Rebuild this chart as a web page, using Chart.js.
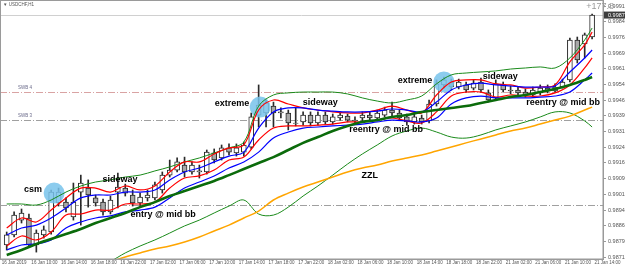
<!DOCTYPE html>
<html>
<head>
<meta charset="utf-8">
<script src="https://cdn.jsdelivr.net/npm/chart.js@4.4.1/dist/chart.umd.min.js"></script>
<style>
  html, body { margin: 0; padding: 0; background: #fff; }
  #wrap { position: relative; width: 625px; height: 268px; }
</style>
</head>
<body>
<div id="wrap"><canvas id="chart"></canvas></div>
<script>
// USDCHF H1, 16 Jan 2019 - 21 Jan 2019
const xTickLabels = ["16 Jan 2019", "16 Jan 10:00", "16 Jan 14:00", "16 Jan 18:00", "16 Jan 22:00",
  "17 Jan 02:00", "17 Jan 06:00", "17 Jan 10:00", "17 Jan 14:00", "17 Jan 18:00", "17 Jan 22:00",
  "18 Jan 02:00", "18 Jan 06:00", "18 Jan 10:00", "18 Jan 14:00", "18 Jan 18:00", "18 Jan 22:00",
  "21 Jan 02:00", "21 Jan 06:00", "21 Jan 10:00", "21 Jan 14:00"];
const yTickValues = [0.98715, 0.98790, 0.98865, 0.98940, 0.99015, 0.99090, 0.99165, 0.99240, 0.99315,
  0.99390, 0.99465, 0.99540, 0.99615, 0.99690, 0.99765, 0.99840, 0.99915];

const opens = [0.98773, 0.98821, 0.98892, 0.98902, 0.98773, 0.98821, 0.98835, 0.98974, 0.98978, 0.98907,
  0.99026, 0.99045, 0.98998, 0.98978, 0.98931, 0.99026, 0.99045, 0.99012, 0.98974, 0.98998,
  0.98998, 0.99036, 0.99107, 0.99131, 0.99155, 0.99122, 0.99127, 0.99122, 0.99213, 0.99189,
  0.99237, 0.99213, 0.99217, 0.99241, 0.99394, 0.99404, 0.99437, 0.99409, 0.99404, 0.99356,
  0.99361, 0.99394, 0.99356, 0.99394, 0.99361, 0.99380, 0.99389, 0.99370, 0.99380, 0.99394,
  0.99380, 0.99394, 0.99418, 0.99404, 0.99385, 0.99361, 0.99380, 0.99366, 0.99447, 0.99538,
  0.99552, 0.99528, 0.99538, 0.99523, 0.99552, 0.99500, 0.99476, 0.99538, 0.99514, 0.99514,
  0.99504, 0.99490, 0.99500, 0.99523, 0.99509, 0.99528, 0.99562, 0.99753, 0.99734, 0.99767];
const highs = [0.98835, 0.98931, 0.98945, 0.98921, 0.98845, 0.98864, 0.99036, 0.99045, 0.98998, 0.99069,
  0.99107, 0.99084, 0.99012, 0.98993, 0.99007, 0.99117, 0.99064, 0.99036, 0.99021, 0.99036,
  0.99074, 0.99122, 0.99179, 0.99189, 0.99193, 0.99170, 0.99155, 0.99227, 0.99232, 0.99251,
  0.99256, 0.99256, 0.99265, 0.99404, 0.99538, 0.99466, 0.99456, 0.99428, 0.99418, 0.99428,
  0.99409, 0.99409, 0.99409, 0.99409, 0.99399, 0.99409, 0.99399, 0.99385, 0.99409, 0.99409,
  0.99418, 0.99432, 0.99456, 0.99418, 0.99399, 0.99399, 0.99394, 0.99466, 0.99562, 0.99576,
  0.99566, 0.99566, 0.99552, 0.99562, 0.99571, 0.99514, 0.99562, 0.99552, 0.99533, 0.99528,
  0.99519, 0.99528, 0.99538, 0.99538, 0.99543, 0.99566, 0.99762, 0.99767, 0.99786, 0.99877];
const lows = [0.98749, 0.98811, 0.98878, 0.98763, 0.98739, 0.98806, 0.98825, 0.98959, 0.98931, 0.98892,
  0.98868, 0.98954, 0.98959, 0.98916, 0.98921, 0.98950, 0.99007, 0.98959, 0.98954, 0.98983,
  0.98988, 0.99021, 0.99098, 0.99122, 0.99098, 0.99112, 0.99093, 0.99112, 0.99165, 0.99179,
  0.99203, 0.99198, 0.99198, 0.99232, 0.99337, 0.99337, 0.99337, 0.99380, 0.99323, 0.99342,
  0.99346, 0.99342, 0.99346, 0.99351, 0.99351, 0.99370, 0.99361, 0.99356, 0.99366, 0.99370,
  0.99370, 0.99385, 0.99385, 0.99370, 0.99346, 0.99351, 0.99351, 0.99356, 0.99437, 0.99523,
  0.99514, 0.99519, 0.99504, 0.99514, 0.99504, 0.99456, 0.99466, 0.99504, 0.99495, 0.99490,
  0.99480, 0.99480, 0.99490, 0.99500, 0.99504, 0.99523, 0.99552, 0.99643, 0.99667, 0.99758];
const closes = [0.98821, 0.98916, 0.98926, 0.98773, 0.98830, 0.98845, 0.99026, 0.99026, 0.98950, 0.98978,
  0.99069, 0.99012, 0.98974, 0.98931, 0.98988, 0.99050, 0.99021, 0.98974, 0.99002, 0.99012,
  0.99060, 0.99107, 0.99131, 0.99170, 0.99122, 0.99155, 0.99122, 0.99217, 0.99179, 0.99237,
  0.99217, 0.99237, 0.99251, 0.99385, 0.99442, 0.99452, 0.99404, 0.99404, 0.99356, 0.99354,
  0.99394, 0.99356, 0.99394, 0.99361, 0.99385, 0.99394, 0.99370, 0.99366, 0.99394, 0.99380,
  0.99404, 0.99418, 0.99404, 0.99380, 0.99361, 0.99385, 0.99361, 0.99447, 0.99543, 0.99562,
  0.99528, 0.99552, 0.99514, 0.99547, 0.99514, 0.99466, 0.99543, 0.99514, 0.99509, 0.99500,
  0.99490, 0.99514, 0.99523, 0.99509, 0.99528, 0.99552, 0.99753, 0.99657, 0.99777, 0.99872];

// indicator values, read every second bar
const lineBars = [0, 2, 4, 6, 8, 10, 12, 14, 16, 18, 20, 22, 24, 26, 28, 30, 32, 34, 36, 38,
  40, 42, 44, 46, 48, 50, 52, 54, 56, 58, 60, 62, 64, 66, 68, 70, 72, 74, 76, 78, 79];
const bbUpper = [0.98969, 0.98969, 0.98964, 0.98988, 0.99026, 0.99055, 0.99074, 0.99084, 0.99098, 0.99107,
  0.99127, 0.99146, 0.99170, 0.99189, 0.99213, 0.99237, 0.99265, 0.99437, 0.99490, 0.99500,
  0.99504, 0.99504, 0.99504, 0.99495, 0.99476, 0.99461, 0.99452, 0.99466, 0.99485, 0.99543,
  0.99586, 0.99595, 0.99600, 0.99605, 0.99614, 0.99619, 0.99624, 0.99619, 0.99667, 0.99753, 0.99810];
const bbMiddle = [0.98725, 0.98749, 0.98778, 0.98802, 0.98825, 0.98849, 0.98878, 0.98902, 0.98926, 0.98954,
  0.98978, 0.99007, 0.99031, 0.99055, 0.99079, 0.99107, 0.99136, 0.99165, 0.99193, 0.99227,
  0.99261, 0.99289, 0.99318, 0.99342, 0.99361, 0.99370, 0.99385, 0.99394, 0.99409, 0.99418,
  0.99428, 0.99437, 0.99452, 0.99466, 0.99480, 0.99490, 0.99504, 0.99519, 0.99538, 0.99562, 0.99576];
const bbLower = [0.98481, 0.98534, 0.98587, 0.98610, 0.98625, 0.98644, 0.98677, 0.98696, 0.98735, 0.98768,
  0.98797, 0.98830, 0.98864, 0.98892, 0.98926, 0.98959, 0.98988, 0.98921, 0.98916, 0.98954,
  0.99007, 0.99055, 0.99107, 0.99160, 0.99208, 0.99251, 0.99294, 0.99318, 0.99332, 0.99313,
  0.99289, 0.99284, 0.99299, 0.99323, 0.99342, 0.99361, 0.99385, 0.99409, 0.99404, 0.99366, 0.99337];
const redUpper = [0.98854, 0.98902, 0.98883, 0.98940, 0.98998, 0.99045, 0.99045, 0.99026, 0.99055, 0.99036,
  0.99055, 0.99122, 0.99170, 0.99170, 0.99208, 0.99237, 0.99251, 0.99418, 0.99466, 0.99447,
  0.99428, 0.99418, 0.99409, 0.99404, 0.99404, 0.99418, 0.99437, 0.99418, 0.99404, 0.99490,
  0.99552, 0.99562, 0.99562, 0.99543, 0.99538, 0.99523, 0.99528, 0.99538, 0.99648, 0.99729, 0.99791];
const redLower = [0.98768, 0.98816, 0.98797, 0.98835, 0.98916, 0.98921, 0.98940, 0.98940, 0.98969, 0.98969,
  0.98978, 0.99045, 0.99093, 0.99103, 0.99131, 0.99179, 0.99193, 0.99275, 0.99332, 0.99342,
  0.99342, 0.99346, 0.99351, 0.99361, 0.99361, 0.99370, 0.99380, 0.99366, 0.99356, 0.99409,
  0.99485, 0.99504, 0.99504, 0.99480, 0.99490, 0.99485, 0.99485, 0.99500, 0.99538, 0.99619, 0.99667];
const blueUpper = [0.98821, 0.98854, 0.98868, 0.98902, 0.98950, 0.98998, 0.99012, 0.99012, 0.99026, 0.99026,
  0.99036, 0.99084, 0.99122, 0.99141, 0.99170, 0.99198, 0.99217, 0.99332, 0.99409, 0.99428,
  0.99428, 0.99418, 0.99413, 0.99409, 0.99409, 0.99413, 0.99423, 0.99418, 0.99409, 0.99456,
  0.99514, 0.99538, 0.99547, 0.99538, 0.99533, 0.99528, 0.99528, 0.99533, 0.99600, 0.99667, 0.99705];
const blueLower = [0.98749, 0.98773, 0.98778, 0.98797, 0.98854, 0.98883, 0.98902, 0.98912, 0.98931, 0.98940,
  0.98954, 0.98998, 0.99045, 0.99074, 0.99103, 0.99141, 0.99170, 0.99217, 0.99284, 0.99313,
  0.99332, 0.99337, 0.99342, 0.99346, 0.99351, 0.99361, 0.99370, 0.99366, 0.99361, 0.99380,
  0.99447, 0.99476, 0.99485, 0.99476, 0.99476, 0.99476, 0.99480, 0.99485, 0.99504, 0.99562, 0.99595];
const zzl = [0.98558, 0.98577, 0.98596, 0.98615, 0.98634, 0.98653, 0.98672, 0.98692, 0.98716, 0.98735,
  0.98754, 0.98768, 0.98787, 0.98811, 0.98840, 0.98868, 0.98902, 0.98935, 0.98988, 0.99021,
  0.99050, 0.99074, 0.99098, 0.99122, 0.99141, 0.99155, 0.99174, 0.99189, 0.99203, 0.99222,
  0.99241, 0.99261, 0.99280, 0.99299, 0.99318, 0.99332, 0.99351, 0.99370, 0.99389, 0.99418, 0.99432];

// horizontal levels and marks
const levelPrices = [0.99504, 0.99370, 0.98964];
const levelNames = ["SWB 4", "SWB 3", ""];
const circleBars = [6.4, 34.2, 59.0];
const circlePrices = [0.99021, 0.99432, 0.99552];
const noteTexts = ["csm", "sideway", "entry @ mid bb", "extreme", "sideway", "reentry @ mid bb",
  "ZZL", "extreme", "sideway", "reentry @ mid bb"];
const noteBars = [3.55, 15.3, 21.1, 30.4, 42.3, 51.2, 49.0, 55.1, 66.6, 75.1];
const notePrices = [0.99036, 0.99084, 0.98921, 0.99447, 0.99452, 0.99323, 0.99107, 0.99557, 0.99576, 0.99452];
const symbolTitle = "USDCHF,H1";
const profitText = "+177.8";

const barIdx = opens.map((_, i) => i);
const bodies = barIdx.map(i => ({ x: i, y: [opens[i], closes[i]] }));
const wicks = barIdx.map(i => ({ x: i, y: [lows[i], highs[i]] }));
const bodyFill = barIdx.map(i => (closes[i] >= opens[i] ? "#ffffff" : "#a8a8a8"));
const toPoints = vals => vals.map((v, k) => ({ x: lineBars[k], y: v }));

const lineSet = (vals, color, width, order) => ({
  type: "line",
  data: toPoints(vals),
  borderColor: color,
  borderWidth: width,
  pointRadius: 0,
  tension: 0.35,
  fill: false,
  order: order
});

const overlay = {
  id: "overlay",
  beforeDatasetsDraw(chart) {
    const { ctx, chartArea: a, scales: { y } } = chart;
    ctx.save();
    const colors = ["#d9a3a3", "#a0a0a0", "#a0a0a0"];
    levelPrices.forEach((p, k) => {
      const py = Math.round(y.getPixelForValue(p)) + 0.5;
      ctx.strokeStyle = colors[k];
      ctx.lineWidth = 1;
      ctx.setLineDash([7, 2, 1, 2]);
      ctx.beginPath();
      ctx.moveTo(a.left, py);
      ctx.lineTo(a.right, py);
      ctx.stroke();
      if (levelNames[k]) {
        ctx.fillStyle = "#6a6a8a";
        ctx.font = "4.5px 'Liberation Sans', Arial, sans-serif";
        ctx.textBaseline = "bottom";
        ctx.fillText(levelNames[k], 18, py - 2);
      }
    });
    // bid line
    ctx.setLineDash([]);
    const by = Math.round(y.getPixelForValue(closes[closes.length - 1])) + 0.5;
    ctx.strokeStyle = "#d0d0d0";
    ctx.beginPath();
    ctx.moveTo(a.left, by);
    ctx.lineTo(a.right, by);
    ctx.stroke();
    ctx.restore();
  },
  afterDatasetsDraw(chart) {
    const { ctx, scales: { x, y } } = chart;
    ctx.save();
    ctx.font = "bold 9px 'Liberation Sans', Arial, sans-serif";
    ctx.fillStyle = "#000";
    ctx.textAlign = "center";
    ctx.textBaseline = "middle";
    noteTexts.forEach((t, k) => {
      ctx.fillText(t, x.getPixelForValue(noteBars[k]), y.getPixelForValue(notePrices[k]));
    });
    ctx.restore();
  },
  afterDraw(chart) {
    const { ctx, chartArea: a, scales: { y } } = chart;
    ctx.save();
    // frame
    ctx.strokeStyle = "#9a9a9a";
    ctx.lineWidth = 1;
    ctx.strokeRect(0.5, 0.5, a.right - 0.5, a.bottom - 0.5);
    // title
    ctx.fillStyle = "#555";
    ctx.font = "4.5px 'Liberation Sans', Arial, sans-serif";
    ctx.textBaseline = "middle";
    ctx.fillText("\u25BC " + symbolTitle, 3, 5);
    // profit text
    ctx.fillStyle = "#9a9a9a";
    ctx.font = "9px 'Liberation Sans', Arial, sans-serif";
    ctx.textAlign = "right";
    ctx.fillText(profitText, 614, 7);
    // bid price tag
    const last = closes[closes.length - 1];
    const py = y.getPixelForValue(last);
    ctx.fillStyle = "#3c3c3c";
    ctx.fillRect(a.right + 1, py - 3.5, 625 - a.right, 7);
    ctx.fillStyle = "#fff";
    ctx.textAlign = "left";
    ctx.font = "5.5px 'Liberation Sans', Arial, sans-serif";
    ctx.fillText(last.toFixed(5), a.right + 5, py + 0.3);
    ctx.restore();
  }
};

new Chart(document.getElementById("chart"), {
  type: "bar",
  data: {
    datasets: [
      lineSet(zzl, "#ffa500", 1.5, 1),
      lineSet(bbMiddle, "#0b6b0b", 2.6, 2),
      lineSet(blueLower, "#0000ff", 1.2, 3),
      lineSet(blueUpper, "#0000ff", 1.2, 3),
      lineSet(redLower, "#ff0000", 1.2, 4),
      lineSet(redUpper, "#ff0000", 1.2, 4),
      lineSet(bbLower, "#1a8a1a", 1, 5),
      lineSet(bbUpper, "#1a8a1a", 1, 5),
      {
        type: "bubble",
        data: circleBars.map((b, k) => ({ x: b, y: circlePrices[k] })),
        radius: 10.5,
        backgroundColor: "rgba(120,195,235,0.85)",
        borderWidth: 0,
        order: 8
      },
      {
        data: bodies,
        backgroundColor: bodyFill,
        borderColor: "#2a2a2a",
        borderWidth: 1,
        borderSkipped: false,
        barThickness: 5,
        grouped: false,
        order: 9
      },
      {
        data: wicks,
        backgroundColor: "#2a2a2a",
        borderWidth: 0,
        barThickness: 1,
        grouped: false,
        order: 10
      }
    ]
  },
  options: {
    responsive: true,
    maintainAspectRatio: false,
    devicePixelRatio: 1,
    animation: false,
    layout: { padding: 0, autoPadding: false },
    plugins: { legend: { display: false }, tooltip: { enabled: false } },
    scales: {
      x: {
        type: "linear",
        min: -0.904,
        max: 80.47,
        offset: false,
        afterBuildTicks: s => { s.ticks = xTickLabels.map((_, k) => ({ value: 4 * k - 0.67 })); },
        afterFit: s => { s.height = 9; s.paddingLeft = 0; s.paddingRight = 0; },
        ticks: {
          callback: (v, i) => xTickLabels[i],
          align: "start",
          maxRotation: 0,
          minRotation: 0,
          autoSkip: false,
          padding: 1,
          color: "#555",
          font: { size: 4.5, family: "'Liberation Sans', Arial, sans-serif" }
        },
        grid: { drawOnChartArea: false, drawTicks: false, offset: false },
        border: { color: "#9a9a9a" }
      },
      y: {
        position: "right",
        min: 0.98706,
        max: 0.99944,
        afterBuildTicks: s => { s.ticks = yTickValues.map(v => ({ value: v })); },
        afterFit: s => { s.width = 22; s.paddingTop = 0; s.paddingBottom = 0; },
        ticks: {
          callback: v => v.toFixed(5),
          autoSkip: false,
          padding: 2,
          color: "#555",
          font: { size: 5.5, family: "'Liberation Sans', Arial, sans-serif" }
        },
        grid: { drawOnChartArea: false, tickLength: 3, color: "#9a9a9a" },
        border: { color: "#9a9a9a" }
      }
    }
  },
  plugins: [overlay]
});
</script>
</body>
</html>
